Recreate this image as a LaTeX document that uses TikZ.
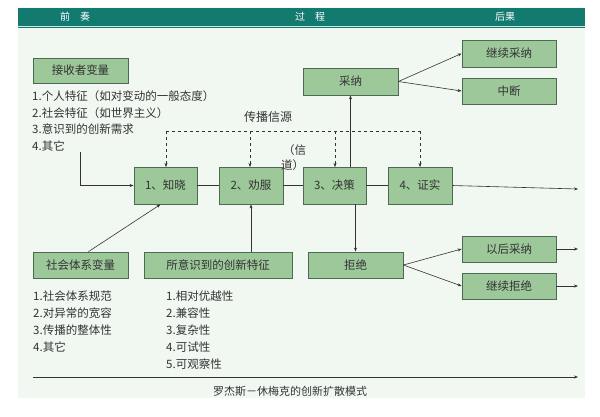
\documentclass[tikz,border=0pt]{standalone}
\usepackage{fontspec}
\setmainfont{Noto Sans CJK SC}
\usetikzlibrary{arrows.meta}
\definecolor{bx}{HTML}{9CC89A}
\definecolor{bd}{HTML}{4F6A52}
\definecolor{teal}{HTML}{127A6E}
\definecolor{bg}{HTML}{F1F7F1}
\definecolor{tx}{HTML}{333333}
\begin{document}
\begin{tikzpicture}[x=1pt,y=-1pt,
 bx/.style={draw=bd,line width=0.8pt,fill=bx,inner sep=0pt,font=\fontsize{11.5}{12}\selectfont,text=tx},
 ln/.style={draw=tx,line width=0.6pt},
 ar/.style={ln,-{Stealth[length=4pt,width=3pt]}},
 lst/.style={anchor=west,font=\fontsize{11.5}{12}\selectfont,text=tx,inner sep=0pt}]
\useasboundingbox (0,0) rectangle (600,416);
\fill[white] (0,0) rectangle (600,416);
\fill[bg] (18,7) rectangle (585,398);
\fill[teal] (18,8) rectangle (585,28);
\draw[white!80!teal,line width=0.8pt] (18,26) -- (585,26);
\node[text=white,font=\fontsize{10}{12}\selectfont] (h1) at (75,17) {前\quad 奏};
\node[text=white,font=\fontsize{10}{12}\selectfont] (h2) at (310,17) {过\quad 程};
\node[text=white,font=\fontsize{10}{12}\selectfont] (h3) at (505,17) {后果};
\node[bx,minimum width=95pt,minimum height=25pt] (recv) at (80.5,70.5) {接收者变量};
\node[bx,minimum width=95pt,minimum height=27pt] (cai) at (350.5,81.5) {采纳};
\node[bx,minimum width=94pt,minimum height=27pt] (jxcn) at (509,53.5) {继续采纳};
\node[bx,minimum width=94pt,minimum height=26pt] (zd) at (509,91) {中断};
\node[bx,minimum width=63pt,minimum height=37pt] (s1) at (165.5,185.5) {1、知晓};
\node[bx,minimum width=64pt,minimum height=37pt] (s2) at (251,185.5) {2、劝服};
\node[bx,minimum width=63pt,minimum height=37pt] (s3) at (334.5,185.5) {3、决策};
\node[bx,minimum width=64pt,minimum height=37pt] (s4) at (420,185.5) {4、证实};
\node[bx,minimum width=95pt,minimum height=26pt] (soc) at (80.5,265) {社会体系变量};
\node[bx,minimum width=148pt,minimum height=26pt] (feat) at (218,265) {所意识到的创新特征};
\node[bx,minimum width=95pt,minimum height=26pt] (jj) at (355.5,265) {拒绝};
\node[bx,minimum width=94pt,minimum height=26pt] (yh) at (509,249) {以后采纳};
\node[bx,minimum width=94pt,minimum height=26pt] (jxjj) at (509,286) {继续拒绝};
\node[lst] (r1) at (32,96) {1.个人特征（如对变动的一般态度）};
\node[lst] (r2) at (32,113) {2.社会特征（如世界主义）};
\node[lst] (r3) at (32,129) {3.意识到的创新需求};
\node[lst] (r4) at (32,146) {4.其它};
\node[lst] (a1) at (33,296) {1.社会体系规范};
\node[lst] (a2) at (33,313) {2.对异常的宽容};
\node[lst] (a3) at (33,330) {3.传播的整体性};
\node[lst] (a4) at (33,347) {4.其它};
\node[lst] (f1) at (166,296) {1.相对优越性};
\node[lst] (f2) at (166,313) {2.兼容性};
\node[lst] (f3) at (166,330) {3.复杂性};
\node[lst] (f4) at (166,347) {4.可试性};
\node[lst] (f5) at (166,364) {5.可观察性};
\node[font=\fontsize{12}{12}\selectfont,text=tx] (src) at (268,117) {传播信源};
\node[lst] (xin1) at (283,150) {（信};
\node[lst] (xin2) at (281,165) {道）};
\node[font=\fontsize{11}{12}\selectfont,text=tx] (cap) at (290,391) {罗杰斯－休梅克的创新扩散模式};
\coordinate (c0) at (80,152);
\draw[ar] (c0) |- (s1.west);
\draw[ln] (s1) -- (s2); \draw[ln] (s2) -- (s3); \draw[ln] (s3) -- (s4);
\coordinate (e1) at (578,189);
\draw[ar] (s4.east) -- (e1);
\coordinate (b1) at (166,131); \coordinate (b4) at (420,131);
\draw[ln,dashed,line width=0.5pt] (b1) -- (b4);
\foreach \x/\n in {166/s1,250/s2,335/s3,420/s4}
  \draw[ar,dashed,line width=0.5pt] (\x,131) -- (\x,167);
\draw[ar] (s3.north-|cai) -- (cai.south);
\draw[ar] (s3.south-|jj) -- (jj.north);
\draw[ar] (soc.north) ++(8,0) -- ([xshift=-5pt]s1.south);
\draw[ar] (feat.north-|s2) -- (s2.south);
\draw[ar] (cai.east) -- (jxcn.west);
\draw[ar] (cai.east) -- (zd.west);
\draw[ar] (jj.east) -- (yh.west);
\draw[ar] (jj.east) -- (jxjj.west);
\coordinate (e2) at (578,249); \coordinate (e3) at (578,286);
\draw[ar] (yh.east) -- (e2);
\draw[ar] (jxjj.east) -- (e3);
\coordinate (bl) at (33,377); \coordinate (br) at (578,377);
\draw[ar] (bl) -- (br);
\end{tikzpicture}
\end{document}
